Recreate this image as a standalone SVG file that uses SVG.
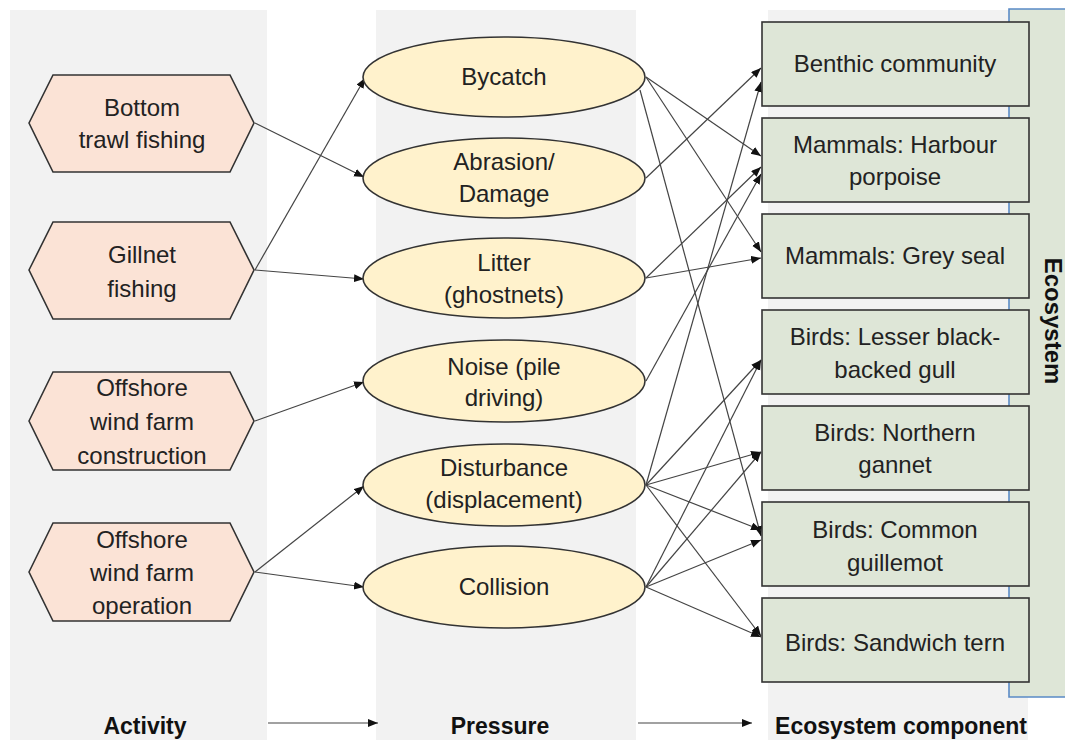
<svg xmlns="http://www.w3.org/2000/svg" width="1065" height="740" viewBox="0 0 1065 740">
<defs>
<marker id="arr" markerUnits="userSpaceOnUse" markerWidth="11" markerHeight="9" refX="10" refY="4" orient="auto">
<path d="M0,0 L10,4 L0,8 z" fill="#111"/>
</marker>
<style>
.band{fill:#f2f2f2}
.hex{fill:#fbe3d6;stroke:#333;stroke-width:1.6}
.ell{fill:#fff2cc;stroke:#333;stroke-width:1.6}
.box{fill:#dee6d7;stroke:#333;stroke-width:1.6}
.t{font-family:"Liberation Sans",Arial,sans-serif;font-size:24px;fill:#222;text-anchor:middle}
.b{font-family:"Liberation Sans",Arial,sans-serif;font-size:23px;font-weight:bold;fill:#111;text-anchor:middle}
.c line{stroke:#444;stroke-width:1.2;marker-end:url(#arr)}
</style>
</defs>
<rect width="1065" height="740" fill="#fff"/>
<g id="bands">
<rect class="band" x="10" y="10" width="257" height="730"/>
<rect class="band" x="376" y="10" width="260" height="730"/>
<rect class="band" x="768" y="10" width="260" height="730"/>
</g>
<g id="ecosystem-bar">
<path d="M1075,9 L1009,9 L1009,697 L1075,697" fill="#dee6d7" stroke="#5a8ac6" stroke-width="1.6"/>
<text class="b" transform="translate(1045,321) rotate(90)" style="font-size:24px">Ecosystem</text>
</g>
<g id="connectors" class="c">
<line x1="255" y1="123" x2="364" y2="177"/>
<line x1="255" y1="270" x2="365" y2="78"/>
<line x1="255" y1="270" x2="364" y2="279"/>
<line x1="255" y1="421" x2="364" y2="382"/>
<line x1="255" y1="572" x2="364" y2="486"/>
<line x1="255" y1="572" x2="364" y2="587"/>
<line x1="646" y1="77" x2="761" y2="156"/>
<line x1="646" y1="77" x2="761" y2="252"/>
<line x1="640" y1="90" x2="761" y2="536"/>
<line x1="646" y1="178" x2="761" y2="68"/>
<line x1="646" y1="278" x2="761" y2="167"/>
<line x1="646" y1="278" x2="761" y2="258"/>
<line x1="646" y1="381" x2="761" y2="174"/>
<line x1="646" y1="485" x2="761" y2="82"/>
<line x1="646" y1="485" x2="761" y2="360"/>
<line x1="646" y1="485" x2="761" y2="452"/>
<line x1="646" y1="485" x2="761" y2="530"/>
<line x1="646" y1="485" x2="761" y2="636"/>
<line x1="646" y1="587" x2="761" y2="360"/>
<line x1="646" y1="587" x2="761" y2="452"/>
<line x1="646" y1="587" x2="761" y2="540"/>
<line x1="646" y1="587" x2="761" y2="637"/>
<line x1="268" y1="723" x2="378" y2="723"/>
<line x1="638" y1="723" x2="752" y2="723"/>
</g>
<g id="act-trawl"><polygon class="hex" points="29,123 53,75 230,75 254,123 230,172 53,172"/><text class="t" x="142" y="116">Bottom</text><text class="t" x="142" y="148">trawl fishing</text></g>
<g id="act-gillnet"><polygon class="hex" points="29,270 53,222 230,222 254,270 230,319 53,319"/><text class="t" x="142" y="263">Gillnet</text><text class="t" x="142" y="297">fishing</text></g>
<g id="act-owf-construction"><polygon class="hex" points="29,421 53,372 230,372 254,421 230,470 53,470"/><text class="t" x="142" y="396">Offshore</text><text class="t" x="142" y="430">wind farm</text><text class="t" x="142" y="464">construction</text></g>
<g id="act-owf-operation"><polygon class="hex" points="29,572 53,523 230,523 254,572 230,621 53,621"/><text class="t" x="142" y="548">Offshore</text><text class="t" x="142" y="581">wind farm</text><text class="t" x="142" y="614">operation</text></g>
<g id="p-bycatch"><ellipse class="ell" cx="504" cy="77" rx="141" ry="40"/><text class="t" x="504" y="85">Bycatch</text></g>
<g id="p-abrasion"><ellipse class="ell" cx="504" cy="178" rx="141" ry="40"/><text class="t" x="504" y="170">Abrasion/</text><text class="t" x="504" y="202">Damage</text></g>
<g id="p-litter"><ellipse class="ell" cx="504" cy="278" rx="141" ry="40"/><text class="t" x="504" y="271">Litter</text><text class="t" x="504" y="303">(ghostnets)</text></g>
<g id="p-noise"><ellipse class="ell" cx="504" cy="381" rx="141" ry="41"/><text class="t" x="504" y="375">Noise (pile</text><text class="t" x="504" y="406">driving)</text></g>
<g id="p-disturbance"><ellipse class="ell" cx="504" cy="485" rx="141" ry="41"/><text class="t" x="504" y="476">Disturbance</text><text class="t" x="504" y="508">(displacement)</text></g>
<g id="p-collision"><ellipse class="ell" cx="504" cy="587" rx="141" ry="41"/><text class="t" x="504" y="595">Collision</text></g>
<g id="e-benthic"><rect class="box" x="762" y="22" width="267" height="84"/><text class="t" x="895" y="72">Benthic community</text></g>
<g id="e-harbour-porpoise"><rect class="box" x="762" y="118" width="267" height="84"/><text class="t" x="895" y="153">Mammals: Harbour</text><text class="t" x="895" y="185">porpoise</text></g>
<g id="e-grey-seal"><rect class="box" x="762" y="214" width="267" height="84"/><text class="t" x="895" y="264">Mammals: Grey seal</text></g>
<g id="e-lbb-gull"><rect class="box" x="762" y="310" width="267" height="84"/><text class="t" x="895" y="345">Birds: Lesser black-</text><text class="t" x="895" y="378">backed gull</text></g>
<g id="e-gannet"><rect class="box" x="762" y="406" width="267" height="84"/><text class="t" x="895" y="441">Birds: Northern</text><text class="t" x="895" y="473">gannet</text></g>
<g id="e-guillemot"><rect class="box" x="762" y="502" width="267" height="84"/><text class="t" x="895" y="538">Birds: Common</text><text class="t" x="895" y="571">guillemot</text></g>
<g id="e-sandwich-tern"><rect class="box" x="762" y="598" width="267" height="84"/><text class="t" x="895" y="651">Birds: Sandwich tern</text></g>
<g id="labels">
<text class="b" x="145" y="734">Activity</text>
<text class="b" x="500" y="734">Pressure</text>
<text class="b" x="901" y="734">Ecosystem component</text>
</g>
</svg>
